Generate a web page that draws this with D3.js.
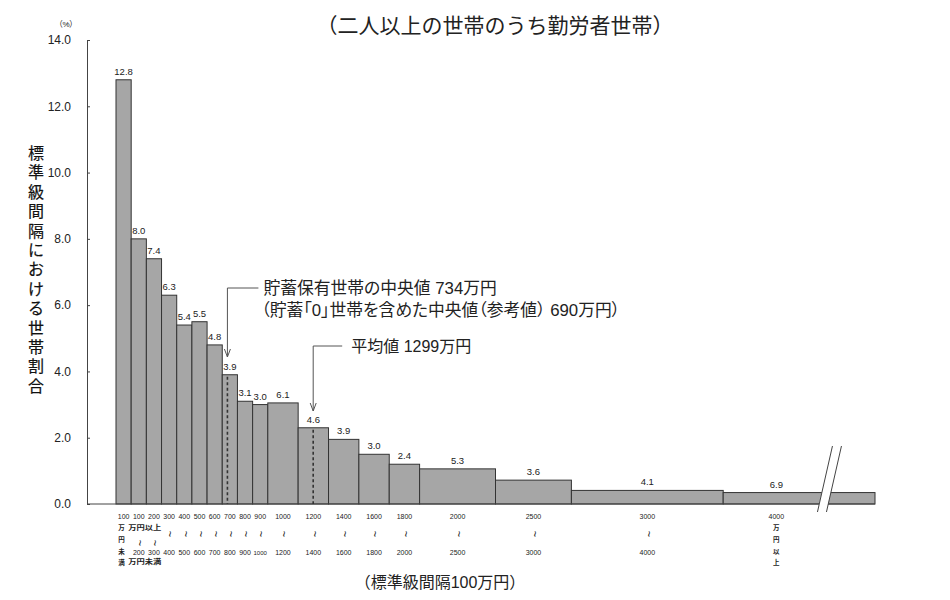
<!DOCTYPE html>
<html>
<head>
<meta charset="utf-8">
<title>貯蓄現在高階級別世帯分布</title>
<script src="https://d3js.org/d3.v7.min.js" charset="utf-8"></script>
<style>
  body { margin: 0; background: #fff; }
  text { font-family: "Liberation Sans", "Noto Sans CJK JP", sans-serif; fill: #222; }
  .note { font-feature-settings: "palt"; }
</style>
</head>
<body>
<script>
var width_SVG = 950;
var height_SVG = 600;

// 貯蓄現在高階級（万円）：下限と上限
var classLower = [0, 100, 200, 300, 400, 500, 600, 700, 800, 900, 1000, 1200, 1400, 1600, 1800, 2000, 2500, 3000, 4000];
var classUpper = [100, 200, 300, 400, 500, 600, 700, 800, 900, 1000, 1200, 1400, 1600, 1800, 2000, 2500, 3000, 4000, 6000];
// 各階級の世帯割合（%）
var shares = [12.8, 8.0, 7.4, 6.3, 5.4, 5.5, 4.8, 3.9, 3.1, 3.0, 6.1, 4.6, 3.9, 3.0, 2.4, 5.3, 3.6, 4.1, 6.9];

// 目盛りラベル
var tickTop = ["100", "100", "200", "300", "400", "500", "600", "700", "800", "900", "1000", "1200", "1400", "1600", "1800", "2000", "2500", "3000", "4000"];
var tickBottom = ["", "200", "300", "400", "500", "600", "700", "800", "900", "1000", "1200", "1400", "1600", "1800", "2000", "2500", "3000", "4000", ""];
var yTicks = [0, 2, 4, 6, 8, 10, 12, 14];

var medianValue = 734;   // 貯蓄保有世帯の中央値
var medianWithZero = 690;
var meanValue = 1299;    // 平均値
var axisEnd = 5000;      // 横軸の右端
var breakAt = 4700;      // 省略記号の位置

var bins = classLower.map(function(lo, i) {
    return {
        lower: lo,
        upper: classUpper[i],
        share: shares[i],
        density: shares[i] / ((classUpper[i] - lo) / 100),
        top: tickTop[i],
        bottom: tickBottom[i]
    };
});

var svg = d3.select("body")
            .append("svg")
            .attr("width", width_SVG)
            .attr("height", height_SVG)
            .style("background", "white");

var x = d3.scaleLinear().domain([0, axisEnd]).range([116, 875]);
var y = d3.scaleLinear().domain([0, 14]).range([504, 40]);
var yAxisX = 87;

function labelX(d) {
    var hi = Math.min(d.upper, breakAt);
    return (x(d.lower) + x(hi)) / 2;
}

// タイトル
svg.append("text")
    .attr("x", 495).attr("y", 33)
    .attr("text-anchor", "middle")
    .style("font-size", "21px")
    .text("（二人以上の世帯のうち勤労者世帯）");

// 縦軸
var yAxis = svg.append("g")
    .attr("transform", "translate(" + yAxisX + ",0)")
    .call(d3.axisLeft(y).tickValues(yTicks).tickSizeInner(-3).tickSizeOuter(0)
            .tickPadding(16).tickFormat(d3.format(".1f")));
yAxis.selectAll("text").style("font-size", "12px").style("fill", "#222");
yAxis.selectAll("path, line").attr("stroke", "#444");

svg.append("text")
    .attr("x", 66).attr("y", 27)
    .attr("text-anchor", "middle")
    .attr("class", "note")
    .style("font-size", "8px")
    .text("（%）");

var yTitle = "標準級間隔における世帯割合".split("");
svg.append("g").selectAll("text")
    .data(yTitle)
    .enter()
  .append("text")
    .attr("x", 36)
    .attr("y", function(d, i) { return 159 + i * 19.4; })
    .attr("text-anchor", "middle")
    .style("font-size", "16px")
    .style("fill", "#111")
    .style("stroke", "#111")
    .style("stroke-width", 0.2)
    .text(function(d) { return d; });

// 棒
svg.append("g").selectAll("rect")
    .data(bins)
    .enter()
  .append("rect")
    .attr("x", function(d) { return x(d.lower); })
    .attr("y", function(d) { return y(d.density); })
    .attr("width", function(d) { return x(Math.min(d.upper, axisEnd)) - x(d.lower); })
    .attr("height", function(d) { return y(0) - y(d.density); })
    .style("fill", "#a6a6a6")
    .style("stroke", "#333")
    .style("stroke-width", 1);

// 横軸
svg.append("line")
    .attr("x1", yAxisX).attr("x2", x(axisEnd))
    .attr("y1", y(0)).attr("y2", y(0))
    .style("stroke", "#444");

// 省略記号
var bx = x(breakAt);
svg.append("polygon")
    .attr("points", [[bx + 3, 447], [bx + 12, 447], [bx - 3, 511], [bx - 12, 511]].join(" "))
    .style("fill", "white");
[0, 9].forEach(function(off) {
    svg.append("line")
        .attr("x1", bx + 3 + off).attr("y1", 446)
        .attr("x2", bx - 12 + off).attr("y2", 512)
        .style("stroke", "#444");
});

// 値ラベル
svg.append("g").selectAll("text")
    .data(bins)
    .enter()
  .append("text")
    .attr("x", labelX)
    .attr("y", function(d) { return y(d.density) - 5; })
    .attr("text-anchor", "middle")
    .style("font-size", "9.5px")
    .text(function(d) { return d3.format(".1f")(d.share); });

// 目盛りラベル
var tl = svg.append("g").style("font-size", "7px");
bins.forEach(function(d, i) {
    var cx = labelX(d);
    tl.append("text").attr("x", cx).attr("y", 519).attr("text-anchor", "middle").text(d.top);
    if (i === 0 || i === bins.length - 1) {
        var word = i === 0 ? "万円未満" : "万円以上";
        word.split("").forEach(function(c, j) {
            tl.append("text").attr("x", cx - (i === 0 ? 2 : 0)).attr("y", 530 + j * 11.8)
                .attr("text-anchor", "middle").style("font-size", "6.5px")
                .style("font-weight", "bold").text(c);
        });
        return;
    }
    var tildeY = (i <= 2) ? 543 : 534;
    tl.append("text")
        .attr("transform", "translate(" + cx + "," + tildeY + ") rotate(90)")
        .attr("text-anchor", "middle")
        .attr("dy", "0.25em")
        .style("font-size", "11px")
        .text("~");
    tl.append("text").attr("x", cx).attr("y", 555).attr("text-anchor", "middle")
        .style("font-size", d.bottom.length > 3 && (x(d.upper) - x(d.lower)) < 20 ? "6px" : null)
        .text(d.bottom);
    if (i === 1) {
        tl.append("text").attr("x", x(d.lower) - 3).attr("y", 530)
            .attr("textLength", 33).attr("lengthAdjust", "spacingAndGlyphs")
            .style("font-size", "7px").style("font-weight", "bold").text("万円以上");
        tl.append("text").attr("x", x(d.lower) - 3).attr("y", 564)
            .attr("textLength", 33).attr("lengthAdjust", "spacingAndGlyphs")
            .style("font-size", "7px").style("font-weight", "bold").text("万円未満");
    }
});

svg.append("text")
    .attr("x", 440).attr("y", 588)
    .attr("text-anchor", "middle")
    .style("font-size", "16px")
    .text("（標準級間隔100万円）");

// 中央値・平均値の注記
function binOf(v) {
    return bins.find(function(d) { return v >= d.lower && v < d.upper; });
}

function marker(v, lineY, arrowY, gap, textGap, fontSize, lines) {
    var mx = x(v);
    var b = binOf(v);
    svg.append("line")
        .attr("x1", mx).attr("x2", mx)
        .attr("y1", y(b.density) + 2).attr("y2", y(0))
        .style("stroke", "#333").style("stroke-width", 1.6)
        .style("stroke-dasharray", "3,2.5");
    svg.append("path")
        .attr("d", "M" + (mx + gap) + "," + lineY + "H" + mx + "V" + arrowY)
        .style("fill", "none").style("stroke", "#555");
    svg.append("path")
        .attr("d", "M" + (mx - 3) + "," + (arrowY - 8) + "L" + mx + "," + arrowY + "L" + (mx + 3) + "," + (arrowY - 8))
        .style("fill", "none").style("stroke", "#555");
    lines.forEach(function(t, i) {
        svg.append("text")
            .attr("class", "note")
            .attr("x", mx + gap + textGap - (i > 0 ? 2 : 0))
            .attr("y", lineY + 6 + i * 22)
            .style("font-size", fontSize + "px")
            .text(t);
    });
}

marker(medianValue, 288, 357, 31, 5, 16.8, [
    "貯蓄保有世帯の中央値 " + medianValue + "万円",
    "（貯蓄「0」世帯を含めた中央値（参考値） " + medianWithZero + "万円）"
]);
marker(meanValue, 346, 411, 29, 9, 16, ["平均値 " + meanValue + "万円"]);
</script>
</body>
</html>
